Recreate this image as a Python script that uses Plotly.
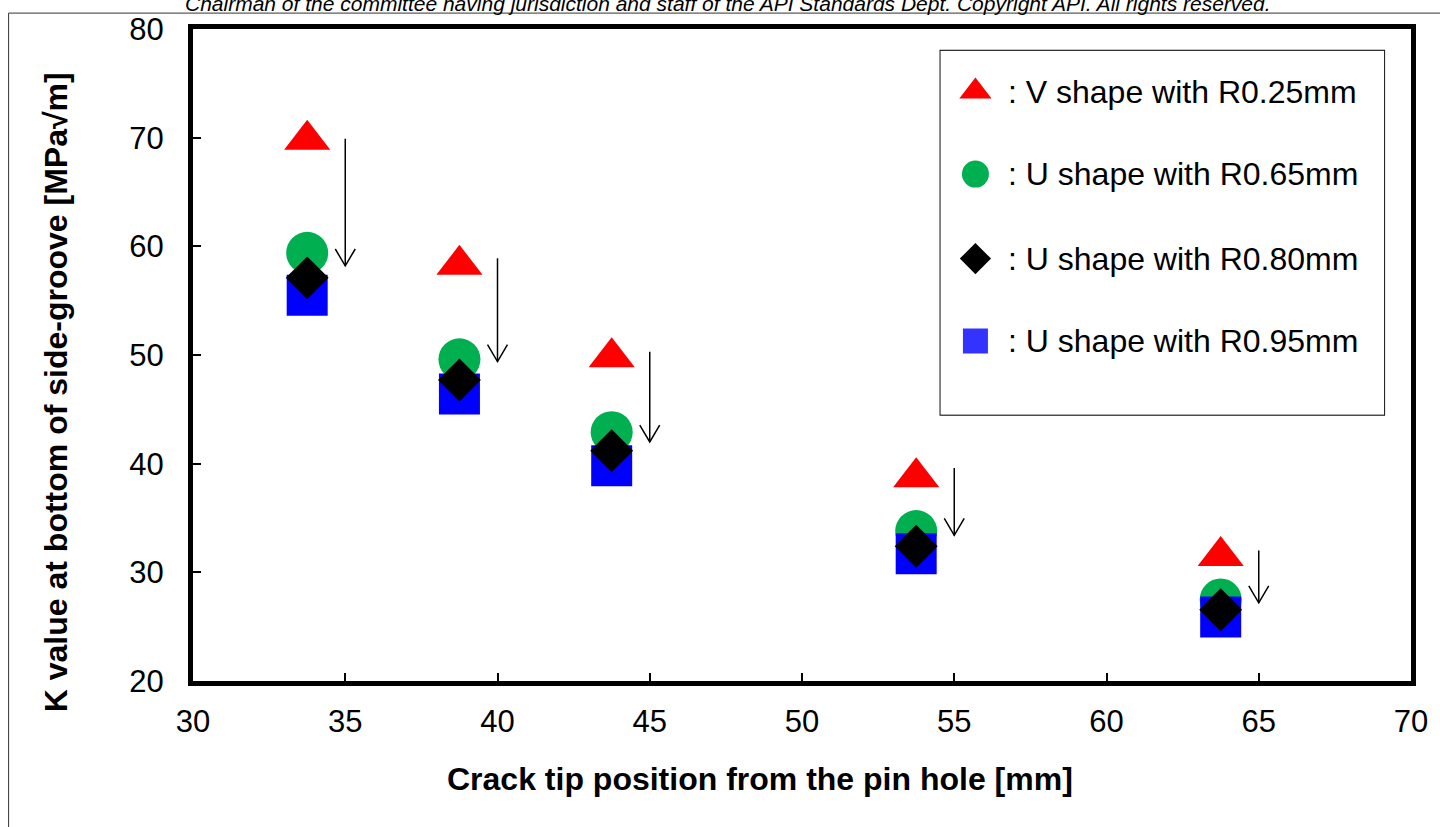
import plotly.graph_objects as go

# ---------------- data ----------------
crack_pos = [33.75, 38.75, 43.75, 53.75, 63.75]
k_v025 = [69.8, 58.3, 49.8, 38.75, 31.5]
k_u065 = [59.4, 49.6, 42.9, 33.8, 27.5]
k_u080 = [57.1, 47.7, 41.2, 32.4, 26.55]
k_u095 = [55.5, 46.4, 39.8, 31.7, 25.9]

arrow_x = [35, 40, 45, 55, 65]
arrow_top = [69.9, 58.9, 50.3, 39.6, 32.0]
arrow_bottom = [58.2, 49.4, 42.0, 33.4, 27.2]

series_names = [
    ": V shape with R0.25mm",
    ": U shape with R0.65mm",
    ": U shape with R0.80mm",
    ": U shape with R0.95mm",
]
x_ticks = [30, 35, 40, 45, 50, 55, 60, 65, 70]
y_ticks = [20, 30, 40, 50, 60, 70, 80]

x_title = "Crack tip position from the pin hole [mm]"
y_title = "K value at bottom of side-groove [MPa√m]"
top_note = ("Chairman of the committee having jurisdiction and staff of the "
            "API Standards Dept. Copyright API. All rights reserved.")

# ---------------- layout constants ----------------
W, H = 1440, 827
ML, MR, MT, MB = 193, 25, 25, 146
PW, PH = W - ML - MR, H - MT - MB
XR = [30, 70]
YR = [20, 80]
FONT = "Arial, 'Liberation Sans', sans-serif"

RED = "#ff0000"
GREEN = "#00b050"
BLACK = "#000000"
BLUE = "#0000ff"
BLUE_LEG = "#3333ff"

# arrow head size in px -> data units through axis scale
HEAD_HALF_W = 10 * (XR[1] - XR[0]) / PW
HEAD_H = 17 * (YR[1] - YR[0]) / PH

ax_x, ax_y = [], []
for xa, t, b in zip(arrow_x, arrow_top, arrow_bottom):
    ax_x += [xa, xa, None, xa - HEAD_HALF_W, xa, xa + HEAD_HALF_W, None]
    ax_y += [t, b, None, b + HEAD_H, b, b + HEAD_H, None]

fig = go.Figure()
fig.add_trace(go.Scatter(x=ax_x, y=ax_y, mode="lines",
                         line=dict(color="black", width=1.5),
                         showlegend=False, hoverinfo="skip"))

fig.add_trace(go.Scatter(x=crack_pos, y=k_u065, mode="markers", name=series_names[1],
                         marker=dict(symbol="circle", size=42, color=GREEN,
                                     line=dict(width=0)), showlegend=False))
fig.add_trace(go.Scatter(x=crack_pos, y=k_u095, mode="markers", name=series_names[3],
                         marker=dict(symbol="square", size=41, color=BLUE,
                                     line=dict(width=0)), showlegend=False))
fig.add_trace(go.Scatter(x=crack_pos, y=k_u080, mode="markers", name=series_names[2],
                         marker=dict(symbol="diamond", size=33, color=BLACK,
                                     line=dict(width=0)), showlegend=False))
fig.add_trace(go.Scatter(x=crack_pos, y=k_v025, mode="markers", name=series_names[0],
                         marker=dict(symbol="triangle-up", size=40, color=RED,
                                     line=dict(width=0)), showlegend=False))

# ---------------- manual legend on an overlay axis (pixel units) ----------------
LEG_L, LEG_R, LEG_T, LEG_B = 943, 1388, 47, 413
leg_dom_x = [(LEG_L - ML) / PW, (LEG_R - ML) / PW]
leg_dom_y = [(H - MB - LEG_B) / PH, (H - MB - LEG_T) / PH]
leg_w, leg_h = LEG_R - LEG_L, LEG_B - LEG_T

leg_rows = [41, 124, 209, 292]
leg_symbols = ["triangle-up", "circle", "diamond", "square"]
leg_colors = [RED, GREEN, BLACK, BLUE_LEG]
leg_sizes = [28, 27, 24, 25]
for sym, col, sz, ry in zip(leg_symbols, leg_colors, leg_sizes, leg_rows):
    fig.add_trace(go.Scatter(x=[35], y=[ry], mode="markers", xaxis="x2", yaxis="y2",
                             marker=dict(symbol=sym, size=sz, color=col, line=dict(width=0)),
                             showlegend=False, hoverinfo="skip"))

annotations = []
for name, ry in zip(series_names, leg_rows):
    annotations.append(dict(x=66, y=ry, xref="x2", yref="y2", text=name,
                            showarrow=False, xanchor="left", yanchor="middle",
                            font=dict(family=FONT, size=32, color="black")))

annotations.append(dict(x=(762 - ML) / PW, y=(H - MB - 780) / PH, xref="paper", yref="paper",
                        text="<b>" + x_title + "</b>", showarrow=False,
                        xanchor="center", yanchor="middle",
                        font=dict(family=FONT, size=32, color="black")))
annotations.append(dict(x=(55 - ML) / PW, y=(H - MB - 390) / PH, xref="paper", yref="paper",
                        text="<b>" + y_title + "</b>", showarrow=False, textangle=-90,
                        xanchor="center", yanchor="middle",
                        font=dict(family=FONT, size=32, color="black")))
annotations.append(dict(x=(730 - ML) / PW, y=(H - MB + 1) / PH, xref="paper", yref="paper",
                        text="<i>" + top_note + "</i>", showarrow=False,
                        xanchor="center", yanchor="middle",
                        font=dict(family=FONT, size=21, color="black")))

shapes = [
    # outer page frame
    dict(type="rect", xref="paper", yref="paper",
         x0=(8 - ML) / PW, x1=(W + 10 - ML) / PW,
         y0=(H - MB - (H + 10)) / PH, y1=(H - MB - 9) / PH,
         line=dict(color="#333333", width=1), layer="below"),
    # legend box
    dict(type="rect", xref="paper", yref="paper",
         x0=leg_dom_x[0], x1=leg_dom_x[1], y0=leg_dom_y[0], y1=leg_dom_y[1],
         line=dict(color="#111111", width=2), fillcolor="white", layer="below"),
]

axis_common = dict(showgrid=False, zeroline=False, showline=True, linecolor="black",
                   linewidth=5, mirror=True, ticks="inside", ticklen=8, tickwidth=2,
                   tickcolor="black", tickfont=dict(family=FONT, size=31, color="black"))

fig.update_layout(
    width=W, height=H,
    margin=dict(l=ML, r=MR, t=MT, b=MB, pad=0),
    paper_bgcolor="white", plot_bgcolor="white",
    showlegend=False,
    xaxis=dict(range=XR, tickvals=x_ticks, ticklabelstandoff=9, **axis_common),
    yaxis=dict(range=YR, tickvals=y_ticks, ticklabelstandoff=18, **axis_common),
    xaxis2=dict(domain=leg_dom_x, range=[0, leg_w], visible=False, anchor="y2"),
    yaxis2=dict(domain=leg_dom_y, range=[leg_h, 0], visible=False, anchor="x2"),
    annotations=annotations,
    shapes=shapes,
)

fig.write_html("out.html")
